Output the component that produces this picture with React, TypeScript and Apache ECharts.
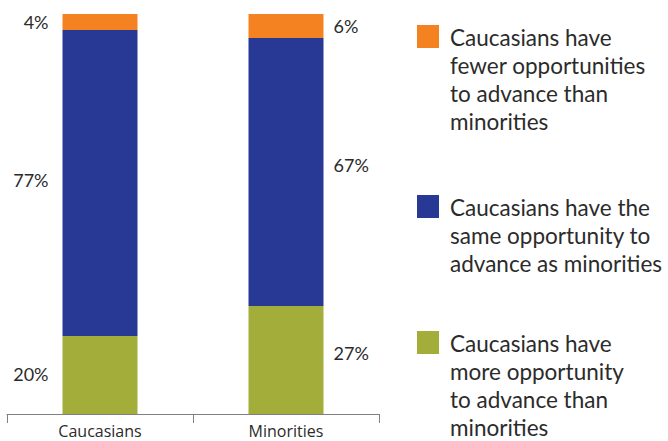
import React, { useEffect, useRef } from "react";
import * as echarts from "echarts";

const categories = ["Caucasians", "Minorities"];
// values in percent
const moreOpportunity = [19.5, 27];
const sameOpportunity = [76.5, 67];
const fewerOpportunities = [4, 6];

const seriesNames = [
  "Caucasians have more opportunity to advance than minorities",
  "Caucasians have the same opportunity to advance as minorities",
  "Caucasians have fewer opportunities to advance than minorities",
];
const legendTexts = [
  "Caucasians have\nfewer opportunities\nto advance than\nminorities",
  "Caucasians have the\nsame opportunity to\nadvance as minorities",
  "Caucasians have\nmore opportunity\nto advance than\nminorities",
];

const ORANGE = "#F58220";
const BLUE = "#283895";
const GREEN = "#A3AD3A";
const TEXT = "#2b2b2b";
const FONT = "Lato";

export default function App() {
  const ref = useRef<HTMLDivElement>(null);

  useEffect(() => {
    if (!ref.current) return;
    const chart = echarts.init(ref.current, null, { renderer: "svg" });

    const mkData = (vals: number[], offsets: number[][]) =>
      vals.map((v, i) => ({
        value: v,
        label: {
          show: true,
          position: i === 0 ? "left" : "right",
          distance: i === 0 ? 14 : 10,
          offset: offsets[i],
          formatter: (p: any) => Math.round(p.value) + "%",
          fontFamily: FONT,
          fontSize: 18,
          color: TEXT,
        },
      }));

    const barBase = { type: "bar", stack: "total", barWidth: 75 };

    const legendColors = [ORANGE, BLUE, GREEN];
    const legendTops = [23, 193, 329];
    const graphic: any[] = [];
    legendTexts.forEach((t, i) => {
      graphic.push({
        type: "rect",
        shape: { x: 417, y: legendTops[i] + 2, width: 22, height: 23 },
        style: { fill: legendColors[i] },
      });
      graphic.push({
        type: "text",
        x: 450,
        y: legendTops[i],
        style: {
          text: t,
          fontFamily: FONT,
          fontSize: 22.5,
          lineHeight: 28,
          fill: TEXT,
          verticalAlign: "top",
          align: "left",
        },
      });
    });

    chart.setOption({
      animation: false,
      grid: { left: 7, right: 289, top: 14, bottom: 27, containLabel: false },
      xAxis: {
        type: "category",
        data: categories,
        axisLine: { lineStyle: { color: "#808080", width: 1 } },
        axisTick: { show: true, length: 9, lineStyle: { color: "#808080" } },
        axisLabel: { fontFamily: "Open Sans", fontSize: 16, color: TEXT, margin: 9 },
      },
      yAxis: { type: "value", min: 0, max: 100, show: false },
      series: [
        {
          ...barBase,
          name: seriesNames[0],
          itemStyle: { color: GREEN },
          data: mkData(moreOpportunity, [[0, -1.5], [0, -7.5]]),
        },
        {
          ...barBase,
          name: seriesNames[1],
          itemStyle: { color: BLUE },
          data: mkData(sameOpportunity, [[0, -3.5], [0, -7]]),
        },
        {
          ...barBase,
          name: seriesNames[2],
          itemStyle: { color: ORANGE },
          data: mkData(fewerOpportunities, [[0, 0], [0, 0]]),
        },
      ],
      graphic,
    });

    return () => chart.dispose();
  }, []);

  return (
    <div
      ref={ref}
      style={{ position: "absolute", left: 0, top: 0, width: 668, height: 441 }}
    />
  );
}
